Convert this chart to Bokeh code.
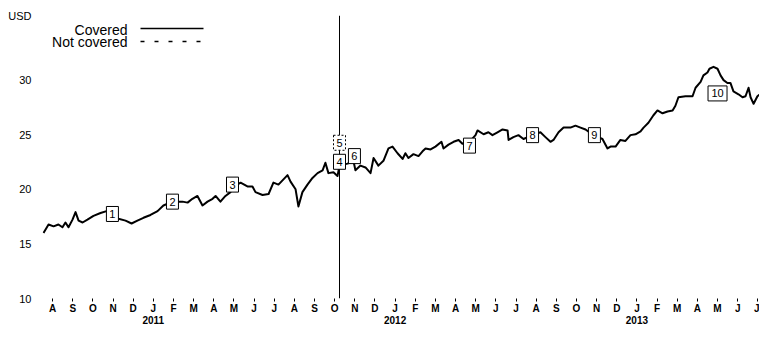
from bokeh.plotting import figure
from bokeh.models import FixedTicker, LinearAxis, Span, Label, ColumnDataSource, Range1d
from bokeh.embed import file_html
from bokeh.resources import INLINE
from bokeh.core.properties import value

# ---------------- data ----------------
# x: months elapsed since 1 Aug 2010, y: price in USD
months_since_aug2010 = [
    0.05, 0.30, 0.55, 0.79, 0.99, 1.14, 1.29, 1.49, 1.64, 1.79, 1.99, 2.23, 2.53, 2.88, 3.18, 3.47,
    3.77, 4.12, 4.42, 4.71, 5.01, 5.36, 5.71, 6.00, 6.45, 6.95, 7.20, 7.44, 7.69, 7.94, 8.19, 8.44,
    8.59, 8.83, 9.08, 9.33, 9.43, 9.83, 10.17, 10.42, 10.57, 10.92, 11.22, 11.46, 11.71, 12.16, 12.31,
    12.56, 12.70, 12.90, 13.15, 13.40, 13.65, 13.90, 14.04, 14.19, 14.44, 14.64, 14.74, 15.14, 15.43,
    15.53, 15.78, 16.03, 16.28, 16.43, 16.67, 16.92, 17.17, 17.37, 17.62, 17.87, 18.01, 18.16, 18.41,
    18.66, 18.86, 19.01, 19.26, 19.50, 19.80, 19.90, 20.15, 20.40, 20.65, 20.84, 21.19, 21.49, 21.59,
    21.89, 22.13, 22.33, 22.58, 22.83, 23.08, 23.13, 23.37, 23.62, 23.87, 24.32, 24.71, 24.96, 25.21,
    25.36, 25.61, 25.86, 26.20, 26.45, 26.70, 26.95, 27.34, 27.79, 28.04, 28.19, 28.44, 28.68, 28.93,
    29.18, 29.43, 29.68, 29.83, 30.07, 30.32, 30.52, 30.77, 31.02, 31.27, 31.41, 31.56, 31.91, 32.26,
    32.41, 32.66, 32.80, 33.00, 33.10, 33.30, 33.50, 33.65, 33.80, 33.99, 34.14, 34.29, 34.54, 34.74,
    34.89, 35.04, 35.14, 35.29, 35.48, 35.73, 35.83, 35.98,
]
price_usd = [
    16.00, 16.78, 16.61, 16.78, 16.52, 16.96, 16.52, 17.22, 17.91, 17.13, 16.96, 17.22, 17.57, 17.83, 18.00, 18.09,
    17.30, 17.13, 16.87, 17.13, 17.39, 17.65, 18.00, 18.52, 18.87, 18.87, 18.78, 19.13, 19.39, 18.52, 18.87, 19.13,
    19.39, 18.87, 19.39, 19.74, 20.17, 20.61, 20.26, 20.26, 19.74, 19.48, 19.57, 20.61, 20.43, 21.30, 20.70,
    20.00, 18.43, 19.74, 20.43, 21.04, 21.48, 21.74, 22.43, 21.48, 21.57, 21.22, 22.17, 22.35, 22.61,
    21.74, 22.17, 22.00, 21.48, 22.87, 22.17, 22.61, 23.74, 23.91, 23.30, 22.78, 23.30, 22.87, 23.22,
    23.04, 23.48, 23.74, 23.65, 23.91, 24.35, 23.74, 24.09, 24.35, 24.52, 24.17, 24.35, 24.96, 25.39,
    25.04, 25.22, 24.96, 25.22, 25.48, 25.39, 24.52, 24.78, 24.96, 24.61, 24.96, 25.22, 24.78, 24.35,
    24.52, 25.22, 25.65, 25.65, 25.83, 25.65, 25.48, 24.96, 24.61, 23.74, 23.91, 23.91, 24.52, 24.43,
    24.96, 25.04, 25.30, 25.65, 26.09, 26.78, 27.22, 26.96, 27.13, 27.22, 27.65, 28.43, 28.52, 28.52,
    29.30, 29.83, 30.43, 30.70, 31.04, 31.22, 31.04, 30.43, 30.00, 29.74, 29.74, 28.96, 28.70, 28.43,
    28.52, 29.30, 28.43, 27.83, 28.52, 28.87, 30.43, 30.70,
]

y_ticks = [10, 15, 20, 25, 30]
y_unit_label = "USD"
month_letters = ["A", "S", "O", "N", "D"] + list("JFMAMJJASOND") * 2 + list("JFMAMJJ")
year_labels = ["2011", "2012", "2013"]
year_first_month = [5, 17, 29]          # index of January in month_letters

event_ids = ["1", "2", "3", "4", "5", "6", "7", "8", "9", "10"]
event_month = [3.47, 6.45, 9.43, 14.74, 14.74, 15.48, 21.19, 24.32, 27.39, 33.50]
event_value = [17.74, 18.87, 20.43, 22.52, 24.26, 23.04, 24.00, 24.96, 24.96, 28.78]
event_covered = [True, True, True, True, False, True, True, True, True, True]

policy_month = 14.74

# ---------------- layout ----------------
W, H = 759, 334
LEFT, TOP, BOTTOM = 42, 15, 36
PX_PER_MONTH = 20.15
PX_PER_USD = 10.92
FRAME_W = W - LEFT
FRAME_H = H - TOP - BOTTOM
X_END = FRAME_W / PX_PER_MONTH
Y_END = 10 + FRAME_H / PX_PER_USD


def sx(px):  # canvas pixel -> month
    return (px - LEFT) / PX_PER_MONTH


def sy(py):  # canvas pixel -> USD
    return 10 + (TOP + FRAME_H - py) / PX_PER_USD


FONT = "Liberation Sans"

p = figure(width=W, height=H, output_backend="svg", toolbar_location=None,
           x_range=Range1d(0, X_END), y_range=Range1d(10, Y_END),
           min_border_left=LEFT, min_border_right=0, min_border_top=TOP, min_border_bottom=BOTTOM,
           x_axis_type=None, y_axis_type=None)
p.outline_line_color = None
p.background_fill_color = "white"
p.border_fill_color = "white"

unit_tick = Y_END - 0.02
yaxis = LinearAxis(ticker=FixedTicker(ticks=y_ticks + [unit_tick]),
                   major_label_overrides={unit_tick: y_unit_label},
                   axis_line_color=None,
                   major_tick_line_color=None, minor_tick_line_color=None,
                   major_tick_in=0, major_tick_out=0, major_label_standoff=11,
                   major_label_text_font=FONT, major_label_text_font_size="11px",
                   major_label_text_color="black")
p.add_layout(yaxis, "left")

month_ticks = [i + 0.5 for i in range(len(month_letters))]
xaxis = LinearAxis(ticker=FixedTicker(ticks=month_ticks),
                   major_label_overrides={t: l for t, l in zip(month_ticks, month_letters)},
                   axis_line_color=None, major_tick_line_color="black", major_tick_line_width=1,
                   minor_tick_line_color=None, major_tick_in=0, major_tick_out=3,
                   major_label_standoff=1, major_label_text_font=FONT,
                   major_label_text_font_size="10px", major_label_text_font_style="bold",
                   major_label_text_color="black")
p.add_layout(xaxis, "below")

year_ticks = [month_ticks[i] for i in year_first_month]
yearaxis = LinearAxis(ticker=FixedTicker(ticks=year_ticks),
                      major_label_overrides={t: l for t, l in zip(year_ticks, year_labels)},
                      axis_line_color=None, major_tick_line_color=None, minor_tick_line_color=None,
                      major_tick_in=0, major_tick_out=0, major_label_standoff=-1,
                      major_label_text_font=FONT, major_label_text_font_size="10px",
                      major_label_text_font_style="bold", major_label_text_color="black")
p.add_layout(yearaxis, "below")

p.add_layout(Span(location=policy_month, dimension="height", line_color="black",
                  line_width=1, level="underlay"))

p.line(months_since_aug2010, price_usd, line_color="black", line_width=2, line_join="round")

for covered, dash in ((True, "solid"), (False, "2 2")):
    idx = [i for i, c in enumerate(event_covered) if c == covered]
    src = ColumnDataSource(dict(
        x=[event_month[i] for i in idx], y=[event_value[i] for i in idx],
        t=[event_ids[i] for i in idx], w=[12 + 7 * (len(event_ids[i]) - 1) for i in idx]))
    p.rect("x", "y", width="w", height=15, width_units="screen", height_units="screen",
           source=src, fill_color="white", line_color="black", line_width=1, line_dash=dash)
    p.text("x", "y", text="t", source=src, text_align="center", text_baseline="middle",
           text_font=value(FONT), text_font_size=value("11px"), text_color="black")

# manual legend (label left of its line sample)
p.add_layout(Label(x=sx(127), y=sy(29), text="Covered", text_align="right", text_baseline="middle",
                   text_font=FONT, text_font_size="14px", text_color="black"))
p.add_layout(Label(x=sx(127), y=sy(41), text="Not covered", text_align="right", text_baseline="middle",
                   text_font=FONT, text_font_size="14px", text_color="black"))
p.line([sx(140), sx(203)], [sy(28), sy(28)], line_color="black", line_width=1.5)
p.line([sx(140), sx(203)], [sy(41), sy(41)], line_color="black", line_width=1.5, line_dash="4 10")

open("out.html", "w").write(file_html(p, INLINE))
